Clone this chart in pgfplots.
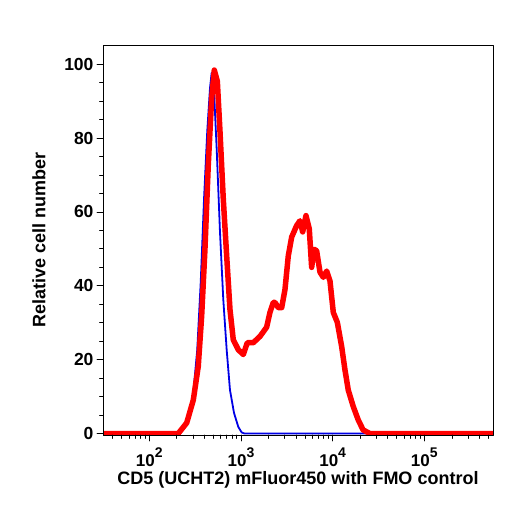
\documentclass[border=0pt]{standalone}
\usepackage{fontspec}
\setmainfont{Liberation Sans}
\usepackage{pgfplots}
\pgfplotsset{compat=1.18}

% decade label with a large raised exponent, always set in the bold text font
\newcommand{\decade}[1]{\mbox{\fontsize{17}{17}\selectfont\bfseries 10\raisebox{0.55em}{\fontsize{14}{14}\selectfont\bfseries #1}}}

\begin{document}
\begin{tikzpicture}[x=1pt,y=1pt]
\path[use as bounding box] (0,0) rectangle (513,506);
% x is log10 of the fluorescence intensity
\begin{axis}[
  at={(103pt,71pt)}, anchor=south west,
  scale only axis, width=390pt, height=389.3pt,
  xmin=1.495, xmax=5.749,
  ymin=-0.38, ymax=105,
  axis on top,
  axis line style={line width=0.8pt},
  tick align=outside, tick pos=left,
  major tick length=6pt, minor tick length=3.5pt,
  every tick/.style={black, line width=0.8pt},
  xtick={2,3,4,5},
  xticklabels={\decade{2},\decade{3},\decade{4},\decade{5}},
  minor xtick={1.60206,1.69897,1.77815,1.84510,1.90309,1.95424,
    2.30103,2.47712,2.60206,2.69897,2.77815,2.84510,2.90309,2.95424,
    3.30103,3.47712,3.60206,3.69897,3.77815,3.84510,3.90309,3.95424,
    4.30103,4.47712,4.60206,4.69897,4.77815,4.84510,4.90309,4.95424,
    5.30103,5.47712,5.60206,5.69897},
  ytick={0,20,40,60,80,100},
  minor ytick={5,10,15,25,30,35,45,50,55,65,70,75,85,90,95},
  /pgf/number format/assume math mode=true,
  y tick label style={font=\bfseries\fontsize{17.5}{17.5}\selectfont},
  x tick label style={font=\bfseries\fontsize{17}{17}\selectfont, yshift=-3pt},
  label style={font=\bfseries\fontsize{18}{18}\selectfont},
  xlabel={CD5 (UCHT2) mFluor450 with FMO control},
  ylabel={Relative cell number},
  xlabel style={at={(axis description cs:0.5,-0.1156)}, anchor=center},
  ylabel style={at={(axis description cs:-0.164,0.5)}, anchor=center},
  line join=round, line cap=round,
]
% FMO control
\addplot[blue!90!black, line width=1.8pt] coordinates {
 (1.495,0) (2.335,0) (2.425,3.7) (2.480,11.0) (2.523,22.7) (2.561,41.0)
 (2.597,63.5) (2.632,81.8) (2.662,93.5) (2.680,97.6) (2.706,92.7)
 (2.735,77.1) (2.771,54.6) (2.807,36.3) (2.844,22.7) (2.880,11.8)
 (2.924,5.6) (2.971,1.8) (3.008,0.3) (3.041,0) (5.749,0)
};
% stained sample
\addplot[red, line width=5.5pt] coordinates {
 (1.495,0) (2.315,0) (2.408,2.9) (2.480,9.1) (2.534,18.2) (2.571,31.8)
 (2.607,49.9) (2.643,72.6) (2.680,90.7) (2.709,98.4) (2.742,95.4)
 (2.771,81.8) (2.807,63.5) (2.844,48.1) (2.880,33.6) (2.916,25.4)
 (2.971,22.7) (3.025,21.4) (3.069,24.6) (3.134,24.6) (3.207,26.3)
 (3.280,28.8) (3.316,32.8) (3.352,35.5) (3.371,35.5) (3.407,34.1)
 (3.444,34.1) (3.480,39.0) (3.516,48.1) (3.553,53.2) (3.607,56.3)
 (3.643,57.6) (3.673,54.6) (3.709,59.0) (3.745,55.4) (3.771,45.0)
 (3.796,49.9) (3.825,49.5) (3.862,43.7) (3.898,42.3) (3.935,44.0)
 (3.971,41.3) (4.007,32.8) (4.051,30.1) (4.098,23.6) (4.134,17.3)
 (4.170,11.8) (4.225,7.3) (4.279,3.7) (4.332,1.0) (4.407,0) (5.749,0)
};
\end{axis}
\end{tikzpicture}
\end{document}
